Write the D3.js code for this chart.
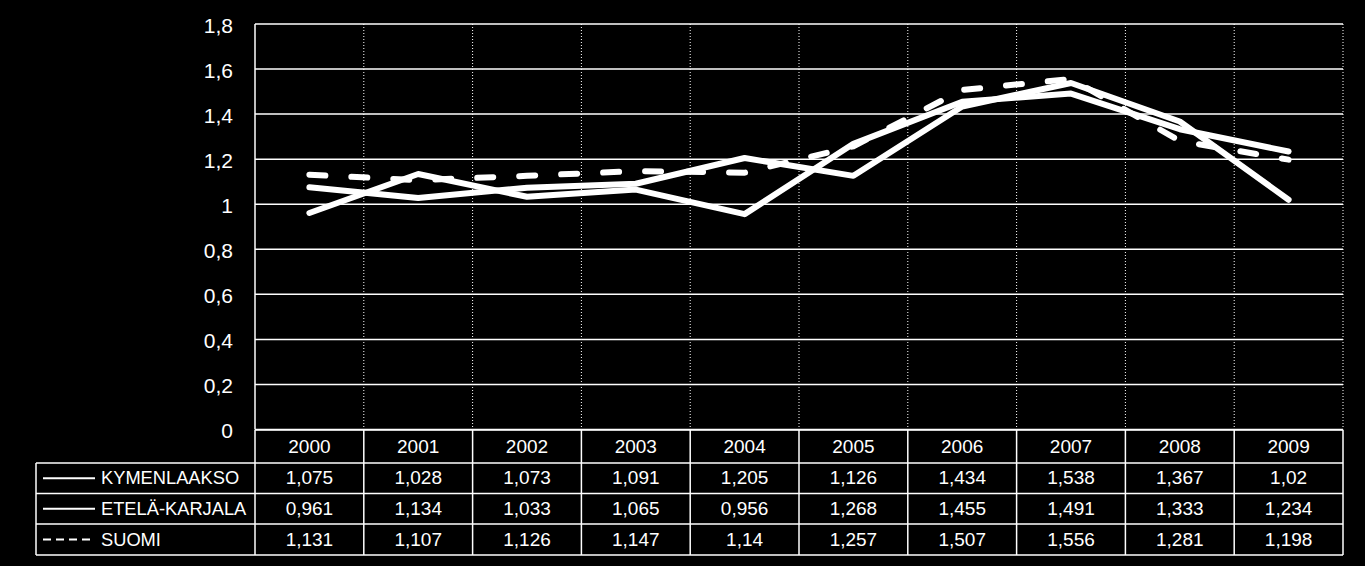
<!DOCTYPE html>
<html><head><meta charset="utf-8">
<script src="https://cdn.jsdelivr.net/npm/d3@7"></script>
<style>html,body{margin:0;padding:0;background:#000;}svg{display:block;}</style>
</head><body>
<script>
const years = ["2000","2001","2002","2003","2004","2005","2006","2007","2008","2009"];
const kymenlaakso = [1.075,1.028,1.073,1.091,1.205,1.126,1.434,1.538,1.367,1.02];
const etelaKarjala = [0.961,1.134,1.033,1.065,0.956,1.268,1.455,1.491,1.333,1.234];
const suomi = [1.131,1.107,1.126,1.147,1.14,1.257,1.507,1.556,1.281,1.198];
const seriesNames = ["KYMENLAAKSO","ETELÄ-KARJALA","SUOMI"];
const yTicks = [0,0.2,0.4,0.6,0.8,1,1.2,1.4,1.6,1.8];

const series = [
  {name: seriesNames[0], values: kymenlaakso, dash: null},
  {name: seriesNames[1], values: etelaKarjala, dash: null},
  {name: seriesNames[2], values: suomi, dash: "16,26"}
];

const W = 1365, H = 566;
const pLeft = 255, pRight = 1343, pTop = 24, pBottom = 429.5;
const rowH = [430, 463, 493.5, 524, 555];
const legendLeft = 36;
const font = "'Liberation Sans', Arial, sans-serif";
const fmt = v => String(v).replace(".", ",");

const svg = d3.select("body").append("svg").attr("width", W).attr("height", H)
  .style("background", "#000");

const x = d3.scaleBand().domain(years).range([pLeft, pRight]);
const y = d3.scaleLinear().domain([0, 1.8]).range([pBottom, pTop]);

// horizontal gridlines
svg.append("g").selectAll("line").data(yTicks).join("line")
  .attr("x1", pLeft).attr("x2", pRight)
  .attr("y1", d => y(d)).attr("y2", d => y(d))
  .attr("stroke", "#fff").attr("stroke-width", 1.5);

// dotted vertical lines in plot
const bounds = years.map(d => x(d)).concat([pRight]);
svg.append("g").selectAll("line").data(bounds.slice(1)).join("line")
  .attr("x1", d => d).attr("x2", d => d)
  .attr("y1", pTop).attr("y2", pBottom)
  .attr("stroke", "#fff").attr("stroke-width", 1).attr("stroke-dasharray", "1,2");
// left solid axis
svg.append("line").attr("x1", pLeft).attr("x2", pLeft).attr("y1", pTop).attr("y2", pBottom)
  .attr("stroke", "#fff").attr("stroke-width", 1.5);

// y axis labels
const yAxis = d3.axisLeft(y).tickValues(yTicks).tickFormat(fmt).tickSize(0).tickPadding(22);
const ya = svg.append("g").attr("transform", `translate(${pLeft},0)`).call(yAxis);
ya.select(".domain").remove();
ya.selectAll("text").attr("fill", "#fff").attr("dy", "0.4em")
  .style("font-family", font).style("font-size", "21px");

// lines
const line = d3.line().x((d, i) => x(years[i]) + x.bandwidth() / 2).y(d => y(d));
svg.append("g").selectAll("path").data(series).join("path")
  .attr("d", d => line(d.values))
  .attr("fill", "none").attr("stroke", "#fff").attr("stroke-width", 6)
  .attr("stroke-linejoin", "round").attr("stroke-linecap", "round")
  .attr("stroke-dasharray", d => d.dash);

// data table
const tg = svg.append("g");
const stroke = (x1, y1, x2, y2) => tg.append("line").attr("x1", x1).attr("y1", y1).attr("x2", x2).attr("y2", y2)
  .attr("stroke", "#fff").attr("stroke-width", 1.5);
stroke(pLeft, rowH[0], pRight, rowH[0]);
for (let r = 1; r < rowH.length; r++) stroke(legendLeft, rowH[r], pRight, rowH[r]);
bounds.forEach(b => stroke(b, rowH[0], b, rowH[4]));
stroke(legendLeft, rowH[1], legendLeft, rowH[4]);

tg.selectAll("text.yr").data(years).join("text").attr("class", "yr")
  .attr("x", d => x(d) + x.bandwidth() / 2).attr("y", (rowH[0] + rowH[1]) / 2 + 6.5)
  .attr("text-anchor", "middle").attr("fill", "#fff")
  .style("font-family", font).style("font-size", "19px").text(d => d);

series.forEach((s, r) => {
  const cy = (rowH[r + 1] + rowH[r + 2]) / 2;
  tg.selectAll(null).data(s.values).join("text")
    .attr("x", (d, i) => x(years[i]) + x.bandwidth() / 2).attr("y", cy + 6)
    .attr("text-anchor", "middle").attr("fill", "#fff")
    .style("font-family", font).style("font-size", "19px").text(d => fmt(d));
  tg.append("line").attr("x1", 43).attr("x2", 95).attr("y1", cy).attr("y2", cy)
    .attr("stroke", "#fff").attr("stroke-width", 2)
    .attr("stroke-dasharray", s.dash ? "8,5" : null);
  tg.append("text").attr("x", 101).attr("y", cy + 6).attr("fill", "#fff")
    .style("font-family", font).style("font-size", "18.3px")
    .text(s.name);
});
</script>
</body></html>
